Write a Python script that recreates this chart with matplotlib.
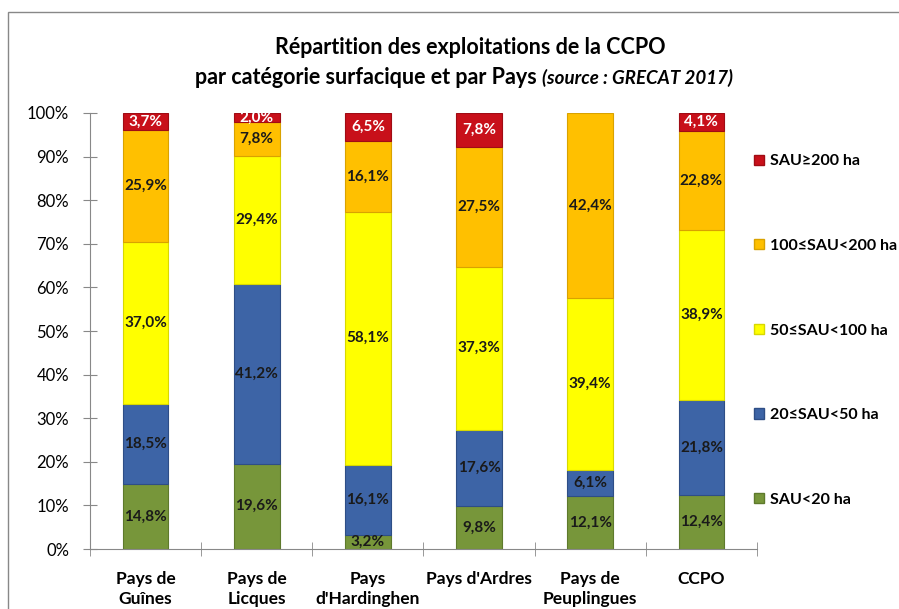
import matplotlib
matplotlib.use("Agg")
import matplotlib.pyplot as plt
from matplotlib.patches import Rectangle, Patch
import numpy as np

categories = ["Pays de\nGuînes", "Pays de\nLicques", "Pays\nd'Hardinghen", "Pays d'Ardres", "Pays de\nPeuplingues", "CCPO"]
series_names = ["SAU<20 ha", "20≤SAU<50 ha", "50≤SAU<100 ha", "100≤SAU<200 ha", "SAU≥200 ha"]
sau_lt20 = [14.8, 19.6, 3.2, 9.8, 12.1, 12.4]
sau_20_50 = [18.5, 41.2, 16.1, 17.6, 6.1, 21.8]
sau_50_100 = [37.0, 29.4, 58.1, 37.3, 39.4, 38.9]
sau_100_200 = [25.9, 7.8, 16.1, 27.5, 42.4, 22.8]
sau_ge200 = [3.7, 2.0, 6.5, 7.8, 0.0, 4.1]
yticks = [0, 10, 20, 30, 40, 50, 60, 70, 80, 90, 100]

series = [sau_lt20, sau_20_50, sau_50_100, sau_100_200, sau_ge200]
colors = ["#77963A", "#3D64A6", "#FFFF00", "#FFC000", "#C8101A"]
edge = ["#5E7A2C", "#2E4E86", "#D8D800", "#D9A200", "#A00C14"]
label_colors = ["#1a1a1a", "#1a1a1a", "#1a1a1a", "#1a1a1a", "white"]

plt.rcParams['font.family'] = ['Lato', 'DejaVu Sans']

fig = plt.figure(figsize=(8.99, 6.09), dpi=100)
fig.patches.append(Rectangle((8/899, -0.05), 1.0, 1 - 12/609 + 0.05, transform=fig.transFigure,
                             fill=False, edgecolor="#888888", linewidth=1.0))

ax = fig.add_axes([90/899, 1 - 549/609, (757 - 90)/899, (549 - 113)/609])
x = np.arange(len(categories))
bottom = np.zeros(len(categories))
handles = []
for vals, c, ec, lc, name in zip(series, colors, edge, label_colors, series_names):
    v = np.array(vals)
    lw = [0.8 if h > 0 else 0 for h in v]
    ax.bar(x, v, 0.41, bottom=bottom, color=c, edgecolor=ec, linewidth=lw)
    for xi, (b, h) in enumerate(zip(bottom, v)):
        if h > 0:
            ax.text(xi, b + h / 2, f"{h:.1f}%".replace(".", ","), ha="center", va="center",
                    fontsize=11, fontweight="bold", color=lc)
    bottom += v
    handles.append(Patch(facecolor=c, edgecolor=ec, label=name))

ax.set_xlim(-0.5, len(categories) - 0.5)
ax.set_ylim(0, 100)
ax.set_yticks(yticks)
ax.set_yticklabels([f"{t}%" for t in yticks], fontsize=12)
ax.set_xticks(x)
ax.set_xticklabels(categories, fontsize=12.5, fontweight="bold", linespacing=1.3)
ax.tick_params(axis="x", length=0, pad=16)
ax.set_xticks(np.arange(-0.5, len(categories) + 0.5, 1), minor=True)
ax.tick_params(axis="x", which="minor", length=10, color="#888888", direction="inout")
ax.tick_params(axis="y", length=10, color="#888888", direction="inout", pad=10)
for s in ["top", "right"]:
    ax.spines[s].set_visible(False)
for s in ["left", "bottom"]:
    ax.spines[s].set_color("#888888")

leg = fig.legend(handles[::-1], series_names[::-1], loc="upper left",
                 bbox_to_anchor=(740/899, 1 - 140/609), frameon=False,
                 fontsize=11.5, handlelength=0.6, handleheight=0.6, handletextpad=0.4,
                 labelspacing=4.42)
for t in leg.get_texts():
    t.set_fontweight("bold")

fig.text(470/899, 1 - 47/609, "Répartition des exploitations de la CCPO", ha="center", va="center",
         fontsize=15.5, fontweight="bold")
t1 = "par catégorie surfacique et par Pays "
t2 = "(source : GRECAT 2017)"
r = fig.canvas.get_renderer()
ta = fig.text(0, 1 - 78/609, t1, ha="left", va="center", fontsize=15.5, fontweight="bold")
tb = fig.text(0, 1 - 78/609, t2, ha="left", va="center", fontsize=13.5, fontweight="bold", style="italic")
wa = ta.get_window_extent(r).width / fig.bbox.width
wb = tb.get_window_extent(r).width / fig.bbox.width
start = 464/899 - (wa + wb) / 2
ta.set_x(start)
tb.set_x(start + wa)

fig.savefig("out.png", dpi=100)
